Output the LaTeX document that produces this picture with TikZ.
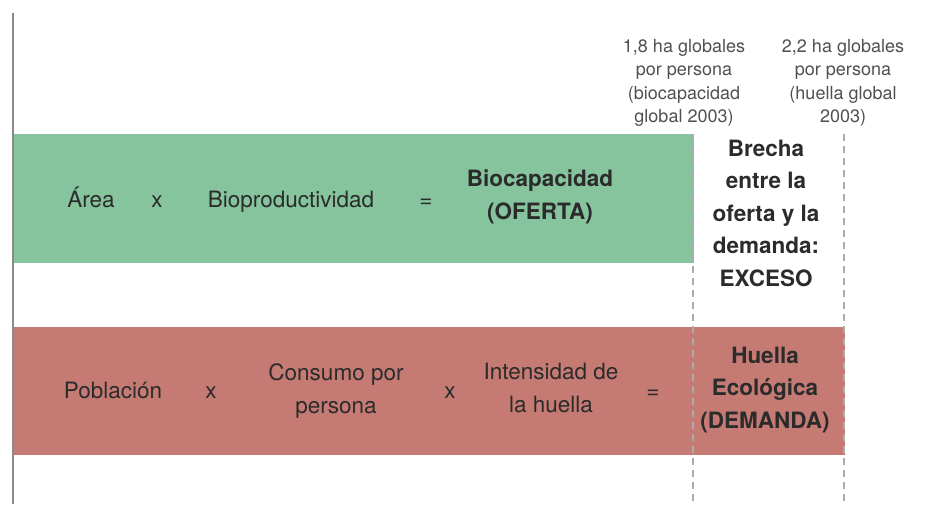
\documentclass[tikz,border=0pt]{standalone}
\usepackage{fontspec}
\setmainfont{TeX Gyre Heros}
\usepackage{xcolor}
\usepackage{tikz}
\definecolor{oferta}{HTML}{86C49E}
\definecolor{demanda}{HTML}{C57B73}
\definecolor{texto}{HTML}{2B2B2B}
\definecolor{gris}{HTML}{505050}
\definecolor{guia}{HTML}{A8ACAE}
\definecolor{eje}{HTML}{8A8A8A}

\begin{document}
\begin{tikzpicture}[x=0.5pt, y=-0.5pt,
        termino/.style={inner sep=0pt, align=center, text=texto,
                font=\fontsize{11.25}{16.5}\selectfont},
        total/.style={termino, font=\fontsize{11.25}{16.25}\selectfont\bfseries},
        etiqueta/.style={inner sep=0pt, align=center, text=gris,
                font=\fontsize{9}{11.75}\selectfont},
        guia/.style={draw=guia, line width=1.25pt, dash pattern=on 3.5pt off 2.5pt}]
        \useasboundingbox (0,0) rectangle (945,504);

        % franjas
        \fill[oferta] (13,134) rectangle (694,263);
        \fill[demanda] (13,327) rectangle (845,455);
        \draw[eje, line width=0.75pt] (13,13) -- (13,504);

        % oferta
        \node[termino, anchor=base] (area) at (91,207) {Área};
        \node[termino, anchor=base] (x1) at (157,207) {x};
        \node[termino, anchor=base] (bioprod) at (291,207) {Bioproductividad};
        \node[termino, anchor=base] (igual1) at (426,207) {=};
        \node[total] (biocap) at (540,197) {Biocapacidad\\(OFERTA)};

        % demanda
        \node[termino, anchor=base] (pobl) at (113,398) {Población};
        \node[termino, anchor=base] (x2) at (211,398) {x};
        \node[termino] (consumo) at (336,391) {Consumo por\\persona};
        \node[termino, anchor=base] (x3) at (450,398) {x};
        \node[termino] (intens) at (551,388) {Intensidad de\\la huella};
        \node[termino, anchor=base] (igual2) at (653,398) {=};
        \node[total] (huella) at (765,390) {Huella\\Ecológica\\(DEMANDA)};

        % brecha
        \node[total] (brecha) at (766,213) {Brecha\\entre la\\oferta y la\\demanda:\\EXCESO};
        \coordinate (g1a) at (693,134);
        \coordinate (g1b) at (693,504);
        \coordinate (g2a) at (844,134);
        \coordinate (g2b) at (844,504);
        \draw[guia] (g1a) -- (g1b);
        \draw[guia] (g2a) -- (g2b);

        \node[etiqueta] (bio03) at (684,83) {1,8 ha globales\\por persona\\(biocapacidad\\global 2003)};
        \node[etiqueta] (hue03) at (843,83) {2,2 ha globales\\por persona\\(huella global\\2003)};
\end{tikzpicture}
\end{document}
